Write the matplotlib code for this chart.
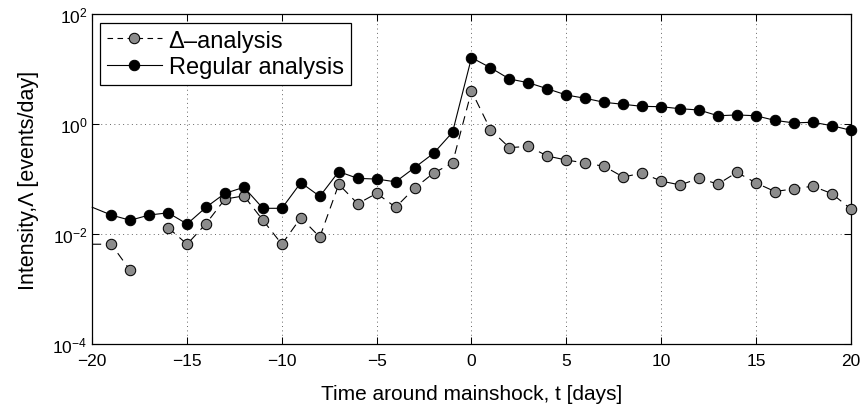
import matplotlib
matplotlib.use('Agg')
import matplotlib.pyplot as plt
from matplotlib.lines import Line2D
import numpy as np

plt.rcParams['font.family'] = 'Liberation Sans'
plt.rcParams['mathtext.fontset'] = 'custom'
plt.rcParams['mathtext.rm'] = 'Liberation Sans'
plt.rcParams['mathtext.default'] = 'regular'

# days around the mainshock
days = np.arange(-20, 21)

# regular analysis intensity [events/day]
regular = [0.031, 0.0224, 0.018, 0.0224, 0.0246, 0.0154, 0.031, 0.0556, 0.0716, 0.0297,
           0.0297, 0.087, 0.049, 0.138, 0.104, 0.101, 0.090, 0.163, 0.297, 0.716,
           16.3, 10.7, 6.67, 5.7, 4.43, 3.41, 2.97, 2.51, 2.31, 2.12,
           2.09, 1.92, 1.82, 1.43, 1.48, 1.43, 1.18, 1.06, 1.09, 0.944, 0.78]

# delta analysis intensity (nan = no events that day)
delta = [0.0066, 0.0066, 0.0022, np.nan, 0.0132, 0.0066, 0.0156, 0.0437, 0.050, 0.018,
         0.0066, 0.020, 0.0089, 0.081, 0.036, 0.0556, 0.031, 0.069, 0.130, 0.198,
         4.03, 0.80, 0.376, 0.398, 0.265, 0.224, 0.198, 0.172, 0.11, 0.130,
         0.093, 0.079, 0.104, 0.082, 0.134, 0.086, 0.060, 0.067, 0.075, 0.055, 0.029]

xticks = [-20, -15, -10, -5, 0, 5, 10, 15, 20]
yticks = [1e-4, 1e-2, 1e0, 1e2]
ylabels = ['$10^{-4}$', '$10^{-2}$', '$10^{0}$', '$10^{2}$']

gray = '#8c8c8c'
ms = 7.5
dash = (8, 5.5)

fig = plt.figure(figsize=(8.6, 4.06), dpi=100)
ax = fig.add_axes([0.1073, 0.1495, 0.8819, 0.8128])

# first day sits on the axis edge, so no marker there
ax.plot(days, delta, '--', dashes=dash, color='k', lw=0.8, marker='o', ms=ms,
        mfc=gray, mec='k', mew=0.75, markevery=slice(1, None), clip_on=False, zorder=3)
ax.plot(days, regular, '-', color='k', lw=0.8, marker='o', ms=ms,
        mfc='k', mec='k', mew=0.75, markevery=slice(1, None), clip_on=False, zorder=4)

ax.set_yscale('log')
ax.set_xlim(-20, 20)
ax.set_ylim(1e-4, 1e2)
ax.set_xticks(xticks)
ax.set_yticks(yticks)
ax.set_yticklabels(ylabels)
ax.yaxis.set_minor_locator(matplotlib.ticker.NullLocator())
ax.tick_params(direction='in', top=True, right=True, length=5, width=0.75, labelsize=12.5)
ax.tick_params(axis='x', pad=6)
ax.grid(True, which='major', linestyle=(0, (1, 3.5)), color='0.4', lw=0.7)
for s in ax.spines.values():
    s.set_linewidth(0.9)

ax.set_xlabel('Time around mainshock, t [days]', fontsize=15, labelpad=12)
ax.set_ylabel('Intensity,\u039b [events/day]', fontsize=15.5, labelpad=10)

handles = [Line2D([], [], ls='--', dashes=(5, 4), color='k', lw=0.8, marker='o', ms=ms, mfc=gray, mec='k', mew=0.75),
           Line2D([], [], ls='-', color='k', lw=0.8, marker='o', ms=ms, mfc='k', mec='k', mew=0.75)]
leg = ax.legend(handles, ['\u0394\u2013analysis', 'Regular analysis'], loc='upper left',
                bbox_to_anchor=(0.0105, 0.975), fontsize=17, numpoints=1,
                handlelength=2.3, handletextpad=0.3, borderpad=0.3, labelspacing=0.2,
                borderaxespad=0, fancybox=False, framealpha=1, edgecolor='k')
leg.get_frame().set_linewidth(0.9)

plt.savefig('out.png', dpi=100)
